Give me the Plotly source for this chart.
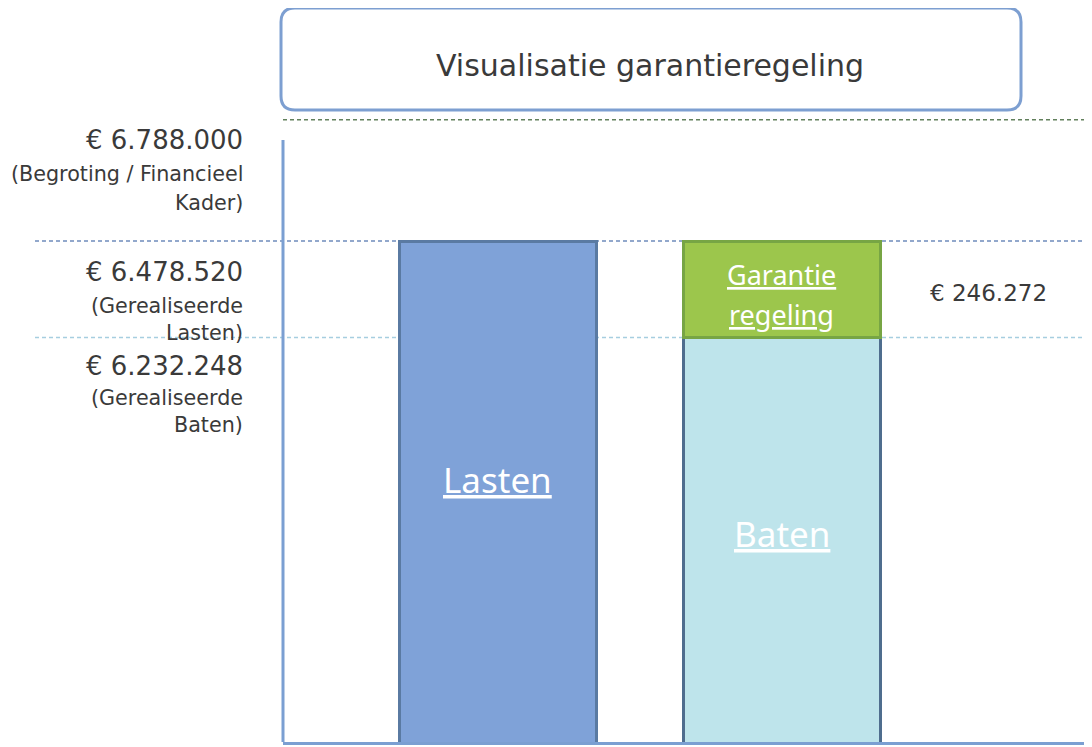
import plotly.graph_objects as go

# ---- data ----
categories = ["Lasten", "Baten"]
lasten_values = [6478520]
baten_values = [6232248]
garantie_values = [246272]
budget_value = 6788000
title_text = "Visualisatie garantieregeling"
label_budget = ["(Begroting / Financieel", "Kader)"]
label_lasten = ["(Gerealiseerde", "Lasten)"]
label_baten = ["(Gerealiseerde", "Baten)"]


def eur(v):
    return "€ " + f"{v:,}".replace(",", ".")


# ---- layout helpers (reference pixel -> paper) ----
OFF = 8  # page body margin
FW, FH = 1092 - OFF, 747 - OFF
PL, PR, PT, PB = 283, 1092, 112, 742  # plot area in reference pixels
ML, MR, MT, MB = PL - OFF, 1092 - PR, PT - OFF, (747 - OFF) - (PB - OFF)
W = PR - PL
H = PB - PT


def PX(x):
    return (x - PL) / W


def PY(y):
    return (PB - y) / H


TEXT = "#3a3a3a"
FONT = "DejaVu Sans"
BARFONT = "Noto Sans"
AXIS = "#7b9fd2"

fig = go.Figure()
fig.add_trace(go.Bar(
    x=[categories[0]], y=lasten_values, width=0.694,
    marker=dict(color="#7fa2d8", line=dict(color="#5a7aa2", width=3)),
    hoverinfo="skip",
))
fig.add_trace(go.Bar(
    x=[categories[1]], y=baten_values, width=0.694,
    marker=dict(color="#bee4eb", line=dict(color="#4f6d8e", width=3)),
    hoverinfo="skip",
))
fig.add_trace(go.Bar(
    x=[categories[1]], y=garantie_values, width=0.694,
    marker=dict(color="#9cc64c", line=dict(color="#77a544", width=3)),
    hoverinfo="skip",
))

lasten_top = lasten_values[0]
baten_top = baten_values[0]
garantie_mid = baten_top + garantie_values[0] / 2

shapes = []
# vertical axis line (starts a bit below the top of the plot area)
shapes.append(dict(type="line", xref="paper", yref="paper", x0=0, x1=0,
                   y0=0, y1=PY(140), layer="above",
                   line=dict(color=AXIS, width=3)))
shapes.append(dict(type="line", xref="paper", yref="y", x0=0, x1=1,
                   y0=budget_value, y1=budget_value, layer="below",
                   line=dict(color="#62805c", width=1.5, dash="4px,3px")))
shapes.append(dict(type="line", xref="paper", yref="y", x0=PX(35), x1=1,
                   y0=lasten_top, y1=lasten_top, layer="below",
                   line=dict(color="#6f8cbc", width=1.5, dash="4px,3px")))
shapes.append(dict(type="line", xref="paper", yref="y", x0=PX(35), x1=1,
                   y0=baten_top, y1=baten_top, layer="below",
                   line=dict(color="#a6cee0", width=1.5, dash="4px,3px")))

# rounded title box
x0, x1, y0, y1, r = 281, 1021, 8, 110, 14


def P(x, y):
    return f"{PX(x):.5f},{PY(y):.5f}"


path = (f"M {P(x0 + r, y0)} L {P(x1 - r, y0)} Q {P(x1, y0)} {P(x1, y0 + r)} "
        f"L {P(x1, y1 - r)} Q {P(x1, y1)} {P(x1 - r, y1)} "
        f"L {P(x0 + r, y1)} Q {P(x0, y1)} {P(x0, y1 - r)} "
        f"L {P(x0, y0 + r)} Q {P(x0, y0)} {P(x0 + r, y0)} Z")
shapes.append(dict(type="path", xref="paper", yref="paper", path=path,
                   fillcolor="white", line=dict(color="#7d9fd1", width=3),
                   layer="above"))

annotations = []
annotations.append(dict(xref="paper", yref="paper", x=PX(650), y=PY(46),
                        text=title_text, showarrow=False,
                        font=dict(family=FONT, size=30, color=TEXT)))

XR = PX(245)


def left_label(text, py, size):
    annotations.append(dict(xref="paper", yref="paper", x=XR, y=PY(py),
                            xanchor="right", yanchor="middle", text=text,
                            showarrow=False,
                            font=dict(family=FONT, size=size, color=TEXT)))


left_label(eur(budget_value), 140, 26)
left_label(label_budget[0], 174, 20.7)
left_label(label_budget[1], 203, 20.7)
left_label(eur(lasten_top), 272, 26)
left_label(label_lasten[0], 306, 20.7)
left_label(label_lasten[1], 333, 20.7)
left_label(eur(baten_top), 366, 26)
left_label(label_baten[0], 398, 20.7)
left_label(label_baten[1], 425, 20.7)

annotations.append(dict(xref="x", yref="y", x=categories[1], y=garantie_mid,
                        xshift=207, yshift=-4, text=eur(garantie_values[0]),
                        showarrow=False,
                        font=dict(family=FONT, size=23, color=TEXT)))

annotations.append(dict(xref="x", yref="paper", x=categories[0], y=PY(480),
                        yanchor="middle",
                        text="<u>Lasten</u>", showarrow=False,
                        font=dict(family=BARFONT, size=35, color="white")))
annotations.append(dict(xref="x", yref="paper", x=categories[1], y=PY(533),
                        yanchor="middle",
                        text="<u>Baten</u>", showarrow=False,
                        font=dict(family=BARFONT, size=35, color="white")))
annotations.append(dict(xref="x", yref="y", x=categories[1], y=garantie_mid,
                        yanchor="middle", yshift=15,
                        text="<u>Garantie</u>", showarrow=False,
                        font=dict(family=BARFONT, size=27, color="white")))
annotations.append(dict(xref="x", yref="y", x=categories[1], y=garantie_mid,
                        yanchor="middle", yshift=-25,
                        text="<u>regeling</u>", showarrow=False,
                        font=dict(family=BARFONT, size=27, color="white")))

fig.update_layout(
    width=FW, height=FH,
    margin=dict(l=ML, r=MR, t=MT, b=MB, pad=0),
    barmode="stack",
    showlegend=False,
    paper_bgcolor="white",
    plot_bgcolor="rgba(0,0,0,0)",
    shapes=shapes,
    annotations=annotations,
    xaxis=dict(type="category", categoryorder="array", categoryarray=categories,
               range=[-0.757, 2.092], showticklabels=False, ticks="",
               showgrid=False, zeroline=False, showline=True,
               linecolor=AXIS, linewidth=3),
    yaxis=dict(range=[5200970, 6807470], showticklabels=False, ticks="",
               showgrid=False, zeroline=False, showline=False),
)

fig.write_html("out.html")
